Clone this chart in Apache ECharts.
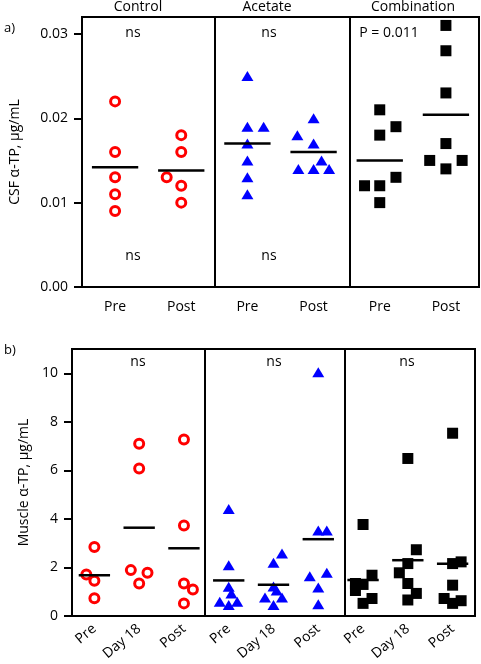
<!DOCTYPE html>
<html>
<head>
<meta charset="utf-8">
<script src="https://cdn.jsdelivr.net/npm/echarts/dist/echarts.min.js"></script>
<style>html,body{margin:0;padding:0;background:#fff}#c{width:481px;height:664px}</style>
</head>
<body>
<div id="c"></div>
<script>
// ---------- Panel a) CSF alpha-TP (µg/mL) ----------
const topCategories = ['Pre', 'Post', 'Pre', 'Post', 'Pre', 'Post'];
const topTicks = [0, 0.01, 0.02, 0.03];

const csfControlPre  = [0.022, 0.016, 0.013, 0.011, 0.009];
const csfControlPost = [0.018, 0.016, 0.013, 0.012, 0.010];
const csfAcetatePre  = [0.025, 0.019, 0.019, 0.017, 0.015, 0.013, 0.011];
const csfAcetatePost = [0.020, 0.018, 0.017, 0.015, 0.014, 0.014, 0.014];
const csfCombPre     = [0.021, 0.019, 0.018, 0.013, 0.012, 0.012, 0.010];
const csfCombPost    = [0.031, 0.028, 0.023, 0.017, 0.015, 0.015, 0.014];

// horizontal jitter of each point (in category widths)
const jitCsfControlPre  = [0, 0, 0, 0, 0];
const jitCsfControlPost = [0, 0, -0.22, 0, 0];
const jitCsfAcetatePre  = [0, 0, 0.245, 0, 0, 0, 0];
const jitCsfAcetatePost = [0, -0.245, 0, 0.12, -0.23, 0, 0.235];
const jitCsfCombPre     = [0, 0.245, 0, 0.245, -0.23, 0, 0];
const jitCsfCombPost    = [0, 0, 0, 0, -0.245, 0.245, 0];

// ---------- Panel b) Muscle alpha-TP (µg/mL) ----------
const botCategories = ['Pre', 'Day 18', 'Post', 'Pre', 'Day 18', 'Post', 'Pre', 'Day 18', 'Post'];
const botTicks = [0, 2, 4, 6, 8, 10];

const musControlPre   = [2.84, 1.71, 1.45, 0.73];
const musControlDay18 = [7.10, 6.08, 1.89, 1.78, 1.34];
const musControlPost  = [7.27, 3.73, 1.34, 1.09, 0.52];
const musAcetatePre   = [4.41, 2.09, 1.20, 0.93, 0.59, 0.59, 0.45];
const musAcetateDay18 = [2.57, 2.19, 1.22, 1.05, 0.76, 0.76, 0.45];
const musAcetatePost  = [10.04, 3.52, 3.52, 1.78, 1.64, 1.17, 0.48];
const musCombPre      = [3.77, 1.68, 1.34, 1.30, 1.05, 0.72, 0.52];
const musCombDay18    = [6.49, 2.73, 2.16, 1.78, 1.34, 0.93, 0.66];
const musCombPost     = [7.53, 2.23, 2.16, 1.27, 0.72, 0.63, 0.52];

const jitMusControlPre   = [0, -0.18, 0, 0];
const jitMusControlDay18 = [0, 0, -0.186, 0.186, 0];
const jitMusControlPost  = [0, 0, 0, 0.2, 0];
const jitMusAcetatePre   = [0, 0, 0, 0.06, -0.2, 0.19, 0];
const jitMusAcetateDay18 = [0.19, 0, 0, 0.07, -0.19, 0.19, 0];
const jitMusAcetatePost  = [0, 0, 0.19, 0.19, -0.19, 0, 0];
const jitMusCombPre      = [0, 0.2, -0.17, 0, -0.17, 0.2, 0];
const jitMusCombDay18    = [0, 0.19, 0, -0.19, 0, 0.19, 0];
const jitMusCombPost     = [0, 0.19, 0, 0, -0.19, 0.19, 0];

// ---------- helpers ----------
function pts(values, jitter, pos) { return values.map((v, i) => [pos + jitter[i], v]); }
function mean(a) { return a.reduce((s, v) => s + v, 0) / a.length; }

const FONT = 'Open Sans';
const RED = '#ff0000', BLUE = '#0000ff', BLACK = '#000000';

function meanSeries(xi, yi, groups) {
  return {
    type: 'custom', xAxisIndex: xi, yAxisIndex: yi, z: 5,
    data: groups.map((g, i) => [i + 1, mean(g)]),
    renderItem: function (params, api) {
      const x = api.value(0), y = api.value(1);
      const p1 = api.coord([x - 0.35, y]), p2 = api.coord([x + 0.35, y]);
      return { type: 'line', shape: { x1: p1[0], y1: p1[1], x2: p2[0], y2: p2[1] },
               style: { stroke: BLACK, lineWidth: 2.5 } };
    }
  };
}

const circleStyle = { color: 'rgba(0,0,0,0)', borderColor: RED, borderWidth: 3, opacity: 1 };
const triStyle = { color: BLUE, opacity: 1 };
const sqStyle = { color: BLACK, opacity: 1 };

const axisLineStyle = { show: true, lineStyle: { color: BLACK, width: 2 } };

const option = {
  animation: false,
  textStyle: { fontFamily: FONT, color: BLACK },
  grid: [
    { left: 72, top: 17, width: 407, height: 270, show: true, borderColor: BLACK, borderWidth: 2, backgroundColor: 'transparent' },
    { left: 72, top: 349, width: 403, height: 267, show: true, borderColor: BLACK, borderWidth: 2, backgroundColor: 'transparent' }
  ],
  xAxis: [
    { type: 'value', gridIndex: 0, min: 0.5, max: 6.5, axisLine: axisLineStyle,
      axisTick: { show: false }, axisLabel: { show: false }, splitLine: { show: false } },
    { type: 'category', gridIndex: 0, data: topCategories, boundaryGap: true, position: 'bottom',
      axisLine: { show: false },
      axisTick: { alignWithLabel: true, length: 8, lineStyle: { color: BLACK, width: 2 } },
      axisLabel: { color: BLACK, fontSize: 14, fontFamily: FONT, margin: 13 } },
    { type: 'value', gridIndex: 1, min: 0.5, max: 9.5, axisLine: axisLineStyle,
      axisTick: { show: false }, axisLabel: { show: false }, splitLine: { show: false } },
    { type: 'category', gridIndex: 1, data: botCategories, boundaryGap: true, position: 'bottom',
      axisLine: { show: false },
      axisTick: { alignWithLabel: true, length: 8, lineStyle: { color: BLACK, width: 2 } },
      axisLabel: { color: BLACK, fontSize: 14, fontFamily: FONT, margin: 11, rotate: 40, interval: 0 } }
  ],
  yAxis: [
    { type: 'value', gridIndex: 0, min: 0, max: 0.032,
      name: 'CSF α-TP, µg/mL', nameLocation: 'middle', nameGap: 60,
      nameTextStyle: { fontSize: 14, fontFamily: FONT, color: BLACK },
      axisLine: axisLineStyle, splitLine: { show: false },
      axisTick: { length: 8, lineStyle: { color: BLACK, width: 2 }, customValues: topTicks },
      axisLabel: { color: BLACK, fontSize: 14, fontFamily: FONT, margin: 14, customValues: topTicks,
                   formatter: v => v.toFixed(2) } },
    { type: 'value', gridIndex: 1, min: 0, max: 11,
      name: 'Muscle α-TP, µg/mL', nameLocation: 'middle', nameGap: 38,
      nameTextStyle: { fontSize: 14, fontFamily: FONT, color: BLACK },
      axisLine: axisLineStyle, splitLine: { show: false },
      axisTick: { length: 8, lineStyle: { color: BLACK, width: 2 }, customValues: botTicks },
      axisLabel: { color: BLACK, fontSize: 14, fontFamily: FONT, margin: 14, customValues: botTicks } }
  ],
  series: [
    // panel a
    { type: 'scatter', xAxisIndex: 0, yAxisIndex: 0, symbol: 'circle', symbolSize: 9, itemStyle: circleStyle,
      data: [...pts(csfControlPre, jitCsfControlPre, 1), ...pts(csfControlPost, jitCsfControlPost, 2)],
      markLine: { silent: true, symbol: 'none', label: { show: false },
                  lineStyle: { color: BLACK, width: 2, type: 'solid' },
                  data: [{ xAxis: 2.5 }, { xAxis: 4.55 }] } },
    { type: 'scatter', xAxisIndex: 0, yAxisIndex: 0, symbol: 'triangle', symbolSize: [12, 10], itemStyle: triStyle,
      data: [...pts(csfAcetatePre, jitCsfAcetatePre, 3), ...pts(csfAcetatePost, jitCsfAcetatePost, 4)] },
    { type: 'scatter', xAxisIndex: 0, yAxisIndex: 0, symbol: 'rect', symbolSize: 11, itemStyle: sqStyle,
      data: [...pts(csfCombPre, jitCsfCombPre, 5), ...pts(csfCombPost, jitCsfCombPost, 6)] },
    meanSeries(0, 0, [csfControlPre, csfControlPost, csfAcetatePre, csfAcetatePost, csfCombPre, csfCombPost]),
    // panel b
    { type: 'scatter', xAxisIndex: 2, yAxisIndex: 1, symbol: 'circle', symbolSize: 9, itemStyle: circleStyle,
      data: [...pts(musControlPre, jitMusControlPre, 1), ...pts(musControlDay18, jitMusControlDay18, 2),
             ...pts(musControlPost, jitMusControlPost, 3)],
      markLine: { silent: true, symbol: 'none', label: { show: false },
                  lineStyle: { color: BLACK, width: 2, type: 'solid' },
                  data: [{ xAxis: 3.47 }, { xAxis: 6.59 }] } },
    { type: 'scatter', xAxisIndex: 2, yAxisIndex: 1, symbol: 'triangle', symbolSize: [12, 10], itemStyle: triStyle,
      data: [...pts(musAcetatePre, jitMusAcetatePre, 4), ...pts(musAcetateDay18, jitMusAcetateDay18, 5),
             ...pts(musAcetatePost, jitMusAcetatePost, 6)] },
    { type: 'scatter', xAxisIndex: 2, yAxisIndex: 1, symbol: 'rect', symbolSize: 11, itemStyle: sqStyle,
      data: [...pts(musCombPre, jitMusCombPre, 7), ...pts(musCombDay18, jitMusCombDay18, 8),
             ...pts(musCombPost, jitMusCombPost, 9)] },
    meanSeries(2, 1, [musControlPre, musControlDay18, musControlPost, musAcetatePre, musAcetateDay18,
                      musAcetatePost, musCombPre, musCombDay18, musCombPost])
  ],
  graphic: [
    { type: 'text', left: 4, top: 22, style: { text: 'a)', font: '13px "Open Sans"', fill: BLACK } },
    { type: 'text', left: 4, top: 344, style: { text: 'b)', font: '13px "Open Sans"', fill: BLACK } },
    { type: 'text', x: 138, y: 7, style: { text: 'Control', font: '14px "Open Sans"', fill: BLACK, align: 'center', verticalAlign: 'middle' } },
    { type: 'text', x: 267, y: 7, style: { text: 'Acetate', font: '14px "Open Sans"', fill: BLACK, align: 'center', verticalAlign: 'middle' } },
    { type: 'text', x: 413, y: 7, style: { text: 'Combination', font: '14px "Open Sans"', fill: BLACK, align: 'center', verticalAlign: 'middle' } },
    { type: 'text', x: 133, y: 33, style: { text: 'ns', font: '14px "Open Sans"', fill: BLACK, align: 'center', verticalAlign: 'middle' } },
    { type: 'text', x: 269, y: 33, style: { text: 'ns', font: '14px "Open Sans"', fill: BLACK, align: 'center', verticalAlign: 'middle' } },
    { type: 'text', x: 389, y: 33, style: { text: 'P = 0.011', font: '14px "Open Sans"', fill: BLACK, align: 'center', verticalAlign: 'middle' } },
    { type: 'text', x: 133, y: 256, style: { text: 'ns', font: '14px "Open Sans"', fill: BLACK, align: 'center', verticalAlign: 'middle' } },
    { type: 'text', x: 269, y: 256, style: { text: 'ns', font: '14px "Open Sans"', fill: BLACK, align: 'center', verticalAlign: 'middle' } },
    { type: 'text', x: 138, y: 362, style: { text: 'ns', font: '14px "Open Sans"', fill: BLACK, align: 'center', verticalAlign: 'middle' } },
    { type: 'text', x: 274, y: 362, style: { text: 'ns', font: '14px "Open Sans"', fill: BLACK, align: 'center', verticalAlign: 'middle' } },
    { type: 'text', x: 407, y: 362, style: { text: 'ns', font: '14px "Open Sans"', fill: BLACK, align: 'center', verticalAlign: 'middle' } }
  ]
};

const chart = echarts.init(document.getElementById('c'), null, { renderer: 'canvas' });
chart.setOption(option);
</script>
</body>
</html>
